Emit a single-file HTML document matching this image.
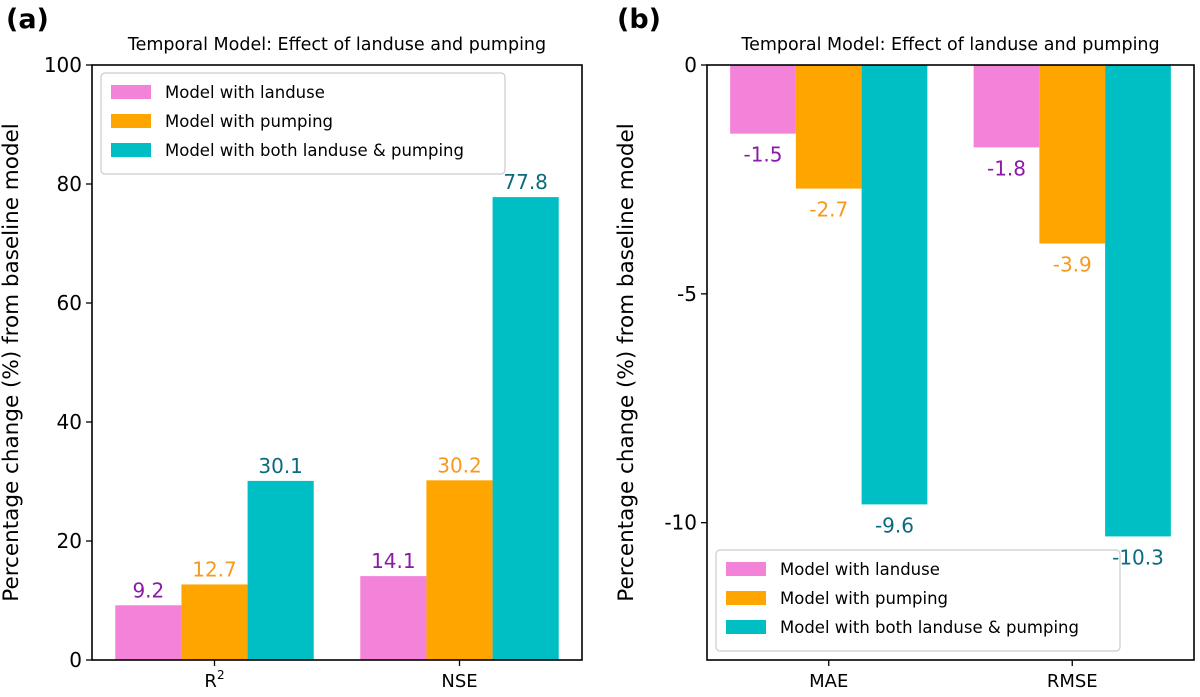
<!DOCTYPE html>
<html><head><meta charset="utf-8"><style>
body{margin:0;background:#fff;font-family:"DejaVu Sans","Liberation Sans",sans-serif}
</style></head><body>
<svg id="c" width="1200" height="693" xmlns="http://www.w3.org/2000/svg" font-family="DejaVu Sans, Liberation Sans, sans-serif"></svg>
<script>
const catsA=["R²","NSE"];
const landA=[9.2,14.1];
const pumpA=[12.7,30.2];
const bothA=[30.1,77.8];
const ticksA=[0,20,40,60,80,100];
const catsB=["MAE","RMSE"];
const landB=[-1.5,-1.8];
const pumpB=[-2.7,-3.9];
const bothB=[-9.6,-10.3];
const ticksB=[0,-5,-10];
const seriesNames=["Model with landuse","Model with pumping","Model with both landuse & pumping"];
const colors=["#f283d8","#ffa500","#00bfc4"];
const textCols=["#8b1aa8","#f59a1f","#0a6b80"];
const svg=document.getElementById('c');
const NS="http://www.w3.org/2000/svg";
function el(t,a,txt){const e=document.createElementNS(NS,t);for(const k in a)e.setAttribute(k,a[k]);if(txt!==undefined)e.textContent=txt;svg.appendChild(e);return e;}
function panel(p){
  const {L,R,T,B,ymin,ymax,cats,series,ticks,label,title,legY,legX,id}=p;
  const x=i=>L+(i+0.5)/2*(R-L);
  const y=v=>B-(v-ymin)/(ymax-ymin)*(B-T);
  const bw=0.27*(R-L)/2;
  const labels=[];
  series.forEach((s,si)=>{s.forEach((v,i)=>{
    const cx=x(i)+(si-1)*bw;
    const r=el('rect',{x:cx-bw/2,y:Math.min(y(v),y(0)),width:bw,height:Math.abs(y(v)-y(0)),fill:colors[si]});
    
    
    labels.push([cx,v,si]);
  });});
  const f=el('rect',{x:L,y:T,width:R-L,height:B-T,fill:'none',stroke:'#000','stroke-width':1.6});
  
  ticks.forEach(v=>{el('line',{x1:L-6,x2:L,y1:y(v),y2:y(v),stroke:'#000','stroke-width':1.3});
    const t=el('text',{x:L-10,y:y(v)+7,'text-anchor':'end','font-size':20},String(v));
    });
  cats.forEach((c,i)=>{el('line',{x1:x(i),x2:x(i),y1:B,y2:B+6,stroke:'#000','stroke-width':1.3});
    const t=el('text',{x:x(i),y:B+27,'text-anchor':'middle','font-size':18});
    if(c==="R²"){t.innerHTML='R<tspan dy="-8" font-size="12">2</tspan>';}else t.textContent=c;
    });
  const yl=el('text',{transform:`translate(${L-74},${(T+B)/2}) rotate(-90)`,'text-anchor':'middle','font-size':21.5},'Percentage change (%) from baseline model');
  
  const tt=el('text',{x:(L+R)/2,y:T-15,'text-anchor':'middle','font-size':17.5},title);
  
  const pl=el('text',{x:label.x,y:28,'font-size':27,'font-weight':'bold'},label.t);
  
  const lg=el('rect',{x:legX,y:legY,width:404,height:101,rx:4,fill:'#fff','fill-opacity':0.8,stroke:'#ccc','stroke-width':1.2});
  
  seriesNames.forEach((n,k)=>{el('rect',{x:legX+10,y:legY+12+k*29,width:40,height:14,fill:colors[k]});
    const t=el('text',{x:legX+64,y:legY+25+k*29,'font-size':16.5},n);
    });
  labels.forEach(([cx,v,si])=>{
    const ty=v>=0?y(v)-8:y(v)+28;
    const t=el('text',{x:cx,y:ty,'text-anchor':'middle','font-size':20,fill:textCols[si]},v.toFixed(1));
    
    
  });
}
panel({id:'a',L:92,R:582,T:65,B:660,ymin:0,ymax:100,cats:catsA,series:[landA,pumpA,bothA],ticks:ticksA,label:{x:6,t:'(a)'},title:'Temporal Model: Effect of landuse and pumping',legX:101,legY:73});
panel({id:'b',L:707,R:1194,T:65,B:660,ymin:-13,ymax:0,cats:catsB,series:[landB,pumpB,bothB],ticks:ticksB,label:{x:617,t:'(b)'},title:'Temporal Model: Effect of landuse and pumping',legX:716,legY:550});
</script>
</body></html>
